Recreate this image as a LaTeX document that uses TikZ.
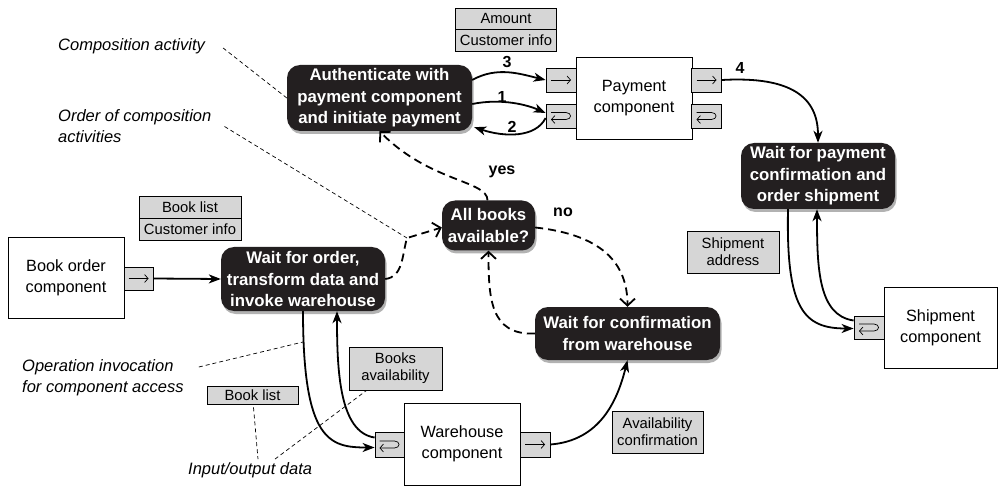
\documentclass[tikz,border=0pt]{standalone}
\usepackage{fontspec}
\setmainfont{Liberation Sans}
\usetikzlibrary{arrows.meta,calc,shadows}
\definecolor{boxgray}{HTML}{D6D6D6}
\definecolor{nodeblack}{HTML}{231F20}
\begin{document}
\begin{tikzpicture}[x=1pt,y=-1pt,
 act/.style={fill=nodeblack, rounded corners=13pt, text=white, font=\fontsize{16.8}{21.5}\selectfont\bfseries, align=center, inner sep=0pt, drop shadow={shadow xshift=1.5pt, shadow yshift=-3pt, fill=black, opacity=0.3}},
 comp/.style={draw, line width=0.9pt, fill=white, align=center, font=\fontsize{16.3}{21}\selectfont, inner sep=0pt},
 data/.style={draw, line width=0.8pt, fill=boxgray, align=center, font=\fontsize{14.8}{17}\selectfont, inner sep=0pt},
 port/.style={draw, line width=0.8pt, fill=boxgray, inner sep=0pt, minimum width=30pt, minimum height=24pt},
 note/.style={font=\fontsize{16.5}{21}\selectfont\itshape, align=left, anchor=west, inner sep=0pt},
 num/.style={font=\fontsize{16}{18}\selectfont\bfseries, inner sep=0pt},
 flow/.style={line width=1.8pt, -{Stealth[length=12pt,width=9pt,inset=3.5pt]}},
 ctrl/.style={line width=1.8pt, dash pattern=on 8pt off 5pt, -{Straight Barb[length=7pt,width=15pt]}},
 lead/.style={line width=0.7pt, dash pattern=on 4pt off 3pt},
 sym/.style={line width=0.7pt, -{Straight Barb[length=3.5pt,width=8pt]}}
]
\useasboundingbox (0,0) rectangle (998,486);

% data boxes
\node[data, minimum width=101pt, minimum height=21pt] (amt) at (506,18.5) {Amount};
\node[data, minimum width=101pt, minimum height=22pt] (cinfo) at (506,40) {Customer info};
\node[data, minimum width=102pt, minimum height=22pt] (blist) at (190,207) {Book list};
\node[data, minimum width=102pt, minimum height=22pt] (cinfo2) at (190,229) {Customer info};
\node[data, minimum width=92pt, minimum height=42pt] (saddr) at (733,252) {Shipment\\address};
\node[data, minimum width=93pt, minimum height=43pt] (bavail) at (395.5,368.5) {Books\\availability};
\node[data, minimum width=91pt, minimum height=42pt] (aconf) at (657.5,432) {Availability\\confirmation};
\node[data, minimum width=91pt, minimum height=18pt] (blist2) at (252.5,395) {Book list};

% activities
\node[act, minimum width=185pt, minimum height=66pt] (auth) at (379.5,98) {Authenticate with\\payment component\\and initiate payment};
\node[act, minimum width=154pt, minimum height=66pt] (wpay) at (818,176) {Wait for payment\\confirmation and\\order shipment};
\node[act, minimum width=164pt, minimum height=64pt] (word) at (303,279) {Wait for order,\\transform data and\\invoke warehouse};
\node[act, minimum width=93pt, minimum height=50pt] (allb) at (488.5,225.5) {All books\\available?};
\node[act, minimum width=185pt, minimum height=53pt] (wconf) at (627.5,333.5) {Wait for confirmation\\from warehouse};

% components
\node[comp, minimum width=116pt, minimum height=82pt] (pay) at (634,98) {Payment\\component};
\node[comp, minimum width=113pt, minimum height=81pt] (ship) at (940.5,327.5) {Shipment\\component};
\node[comp, minimum width=116pt, minimum height=81pt] (border) at (66,277.5) {Book order\\component};
\node[comp, minimum width=116pt, minimum height=82pt] (wh) at (462,444) {Warehouse\\component};

% ports
\node[port] (plt) at (561,80) {};
\node[port] (plb) at (561,116) {};
\node[port] (prt) at (706.5,80) {};
\node[port] (prb) at (706.5,116) {};
\node[port, minimum height=23pt] (sport) at (869,327.5) {};
\node[port, minimum width=29pt, minimum height=23pt] (bport) at (138.5,278.5) {};
\node[port, minimum width=29pt, minimum height=25pt] (whl) at (389.5,444.5) {};
\node[port, minimum height=25pt] (whr) at (535,444.5) {};

\foreach \p in {plt,prt,bport,whr}
  \draw[sym] ($(\p.center)+(-10,0)$) -- ($(\p.center)+(10,0)$);
\foreach \p in {plb,prb,sport,whl}
  \draw[sym] ($(\p.center)+(-10,-3.5)$) -- ($(\p.center)+(5,-3.5)$) .. controls ($(\p.center)+(11,-3.5)$) and ($(\p.center)+(11,3.5)$) .. ($(\p.center)+(5,3.5)$) -- ($(\p.center)+(-10,3.5)$);

% notes
\node[note] (ca) at (58,46) {Composition activity};
\node[note] (oca) at (58,126.5) {Order of composition\\activities};
\node[note] (oi) at (22,378) {Operation invocation\\for component access};
\node[note] (io) at (188,470) {Input/output data};

% labels
\node[num] (n3) at (507,62) {3};
\node[num] (n1) at (502,97) {1};
\node[num] (n2) at (512,127) {2};
\node[num] (n4) at (740,68) {4};
\node[num] (yes) at (502,172) {yes};
\node[num] (no) at (563,212) {no};

% solid flows
\draw[flow] (bport.east) -- (word.west);
\draw[flow] (auth.east |- plt.west) .. controls +(25,-14) and +(-25,-6) .. (plt.west);
\draw[flow] ($(auth.east)+(0,6)$) .. controls +(30,-6) and +(-18,-8) .. ($(plb.west)+(0,-3)$);
\draw[flow] ($(plb.west)+(0,2)$) .. controls +(-10,20) and +(30,10) .. ($(auth.south east)+(2,-4)$);
\draw[flow] (prt.east) .. controls +(70,-4) and +(0,-45) .. (wpay.north);
\draw[flow] ($(wpay.south)+(-30,0)$) .. controls +(-2,100) and +(-50,0) .. ($(sport.west)+(0,1)$);
\draw[flow] ($(sport.west)+(0,-7)$) .. controls +(-35,-5) and +(0,60) .. ($(wpay.south)+(-1,0)$);
\draw[flow] (word.south) .. controls +(0,130) and +(-45,0) .. ($(whl.west)+(0,3)$);
\draw[flow] ($(whl.west)+(0,-7)$) .. controls +(-35,-5) and +(0,60) .. ($(word.south)+(34,0)$);
\draw[flow] (whr.east) .. controls +(50,-4) and +(-10,40) .. (wconf.south);

% control flows
\coordinate (corner) at (407,238);
\draw[ctrl] (word.east) .. controls +(18,-2) and +(-5,17) .. (corner) -- ($(allb.west)+(0,2)$);
\draw[ctrl] ($(allb.north)+(-1,0)$) .. controls +(0,-20) and +(50,51) .. (auth.south);
\draw[ctrl] ($(allb.east)+(0,2)$) .. controls +(65,7) and +(0,-45) .. (wconf.north);
\draw[ctrl] (wconf.west) .. controls +(-45,2) and +(0,47) .. (allb.south);

% leader lines
\coordinate (opi) at (303,342);
\draw[lead] ($(ca.east)+(18,2)$) -- (auth.west);
\draw[lead] ($(oca.east)+(13,0)$) -- (corner);
\draw[lead] ($(oi.east)+(15,-11)$) -- (opi);
\draw[lead] ($(blist2.south)+(1,3)$) -- ($(io.north west)+(70,-3)$);
\draw[lead] ($(io.north west)+(87,-3)$) -- ($(bavail.south west)+(18,0)$);
\end{tikzpicture}
\end{document}
